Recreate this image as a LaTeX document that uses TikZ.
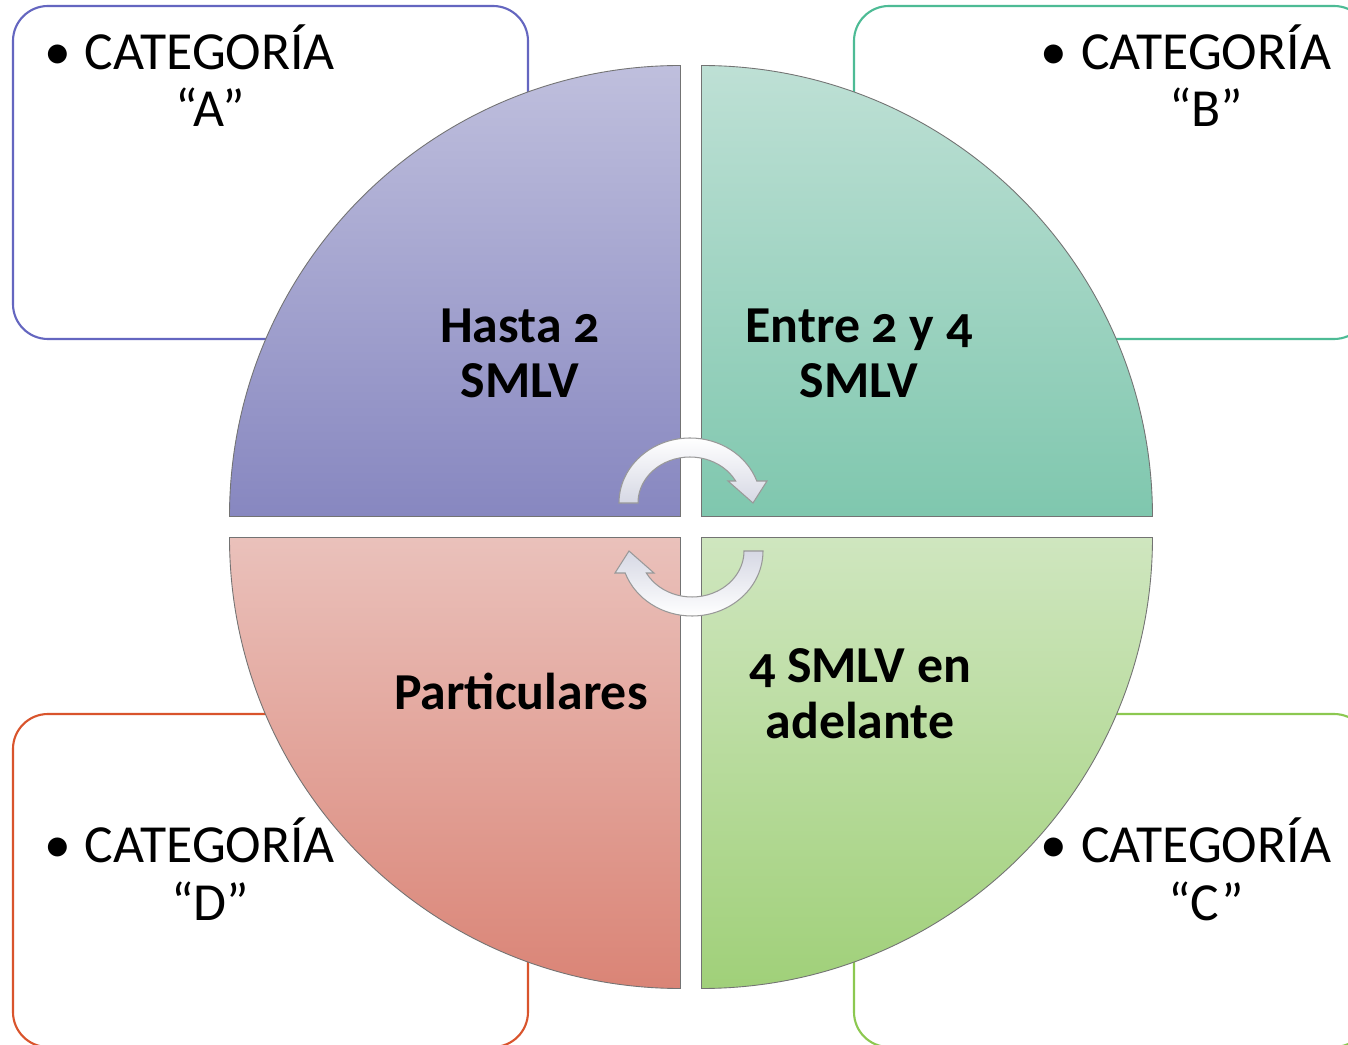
\documentclass[tikz,border=0pt]{standalone}
\usepackage{fontspec}
\setmainfont[Numbers=OldStyle]{Carlito}
\definecolor{boxA}{HTML}{6466C0}
\definecolor{boxB}{HTML}{4DBB95}
\definecolor{boxC}{HTML}{8CC850}
\definecolor{boxD}{HTML}{D9542C}
\definecolor{topA}{HTML}{BFBFDD}
\definecolor{botA}{HTML}{8787C0}
\definecolor{topB}{HTML}{BEE0D5}
\definecolor{botB}{HTML}{7FC7AE}
\definecolor{topC}{HTML}{CFE6BF}
\definecolor{botC}{HTML}{A0D079}
\definecolor{topD}{HTML}{EAC1BB}
\definecolor{botD}{HTML}{DA8476}
\definecolor{arrowlow}{HTML}{D6D8E4}
\newcommand{\turnarrow}{(-0.02,0.48) ++(-1.42,0)
  arc[start angle=180,end angle=19.8,x radius=1.42,y radius=1.3]
  -- (1.52,0.92) -- (1.24,0.48) -- (0.74,0.92) -- (0.893,0.92)
  arc[start angle=28.6,end angle=180,x radius=1.04,y radius=0.92] -- cycle}
\tikzset{
  catbox/.style={draw=#1, line width=1.2pt, rounded corners=0.7cm,
    minimum width=10.3cm, minimum height=6.66cm, fill=white},
  cattext/.style={font=\fontsize{30.5}{32.5}\selectfont, align=center, anchor=base},
  sector/.style={draw=black!55, line width=0.5pt},
  sectext/.style={font=\bfseries\fontsize{29.5}{31.5}\selectfont, align=center, anchor=base},
  cyclearrow/.style={draw=black!40, line width=0.6pt, top color=white, bottom color=arrowlow}
}
\begin{document}
\begin{tikzpicture}
  \useasboundingbox (-13.82,-10.36) rectangle (13.14,10.54);
  \clip (-13.82,-10.36) rectangle (13.14,10.54);
  \fill[white] (-13.82,-10.36) rectangle (13.14,10.54);
  % boxes behind
  \node[catbox=boxA] (boxa) at (-8.41,7.09) {};
  \node[catbox=boxB] (boxb) at (8.41,7.09) {};
  \node[catbox=boxD] (boxd) at (-8.41,-7.07) {};
  \node[catbox=boxC] (boxc) at (8.41,-7.07) {};
  % quarter circles
  \draw[sector, top color=topA, bottom color=botA]
    (-0.21,0.21) -- ++(-9.02,0) arc[start angle=180,end angle=90,radius=9.02] -- cycle;
  \draw[sector, top color=topB, bottom color=botB]
    (0.21,0.21) -- ++(0,9.02) arc[start angle=90,end angle=0,radius=9.02] -- cycle;
  \draw[sector, top color=topD, bottom color=botD]
    (-0.21,-0.21) -- ++(-9.02,0) arc[start angle=180,end angle=270,radius=9.02] -- cycle;
  \draw[sector, top color=topC, bottom color=botC]
    (0.21,-0.21) -- ++(9.02,0) arc[start angle=0,end angle=-90,radius=9.02] -- cycle;
  % turning arrows
  \draw[cyclearrow] \turnarrow;
  \begin{scope}[rotate=180]
    \draw[cyclearrow, shading angle=180] \turnarrow;
  \end{scope}
  % labels
  \node[sectext] (hasta) at (-3.42,2.58) {Hasta 2\\SMLV};
  \node[sectext] (entre) at (3.36,2.58) {Entre 2 y 4\\SMLV};
  \node[sectext] (partic) at (-3.4,-3.66) {Particulares};
  \node[sectext] (adel) at (3.38,-4.22) {4 SMLV en\\adelante};
  \node[cattext] (cata) at (-9.62,8.0) {\llap{\textbullet\hspace{0.26em}}CATEGORÍA\\“A”};
  \node[cattext] (catb) at (10.3,8.0) {\llap{\textbullet\hspace{0.26em}}CATEGORÍA\\“B”};
  \node[cattext] (catd) at (-9.62,-7.86) {\llap{\textbullet\hspace{0.26em}}CATEGORÍA\\“D”};
  \node[cattext] (catc) at (10.3,-7.86) {\llap{\textbullet\hspace{0.26em}}CATEGORÍA\\“C”};
\end{tikzpicture}
\end{document}
